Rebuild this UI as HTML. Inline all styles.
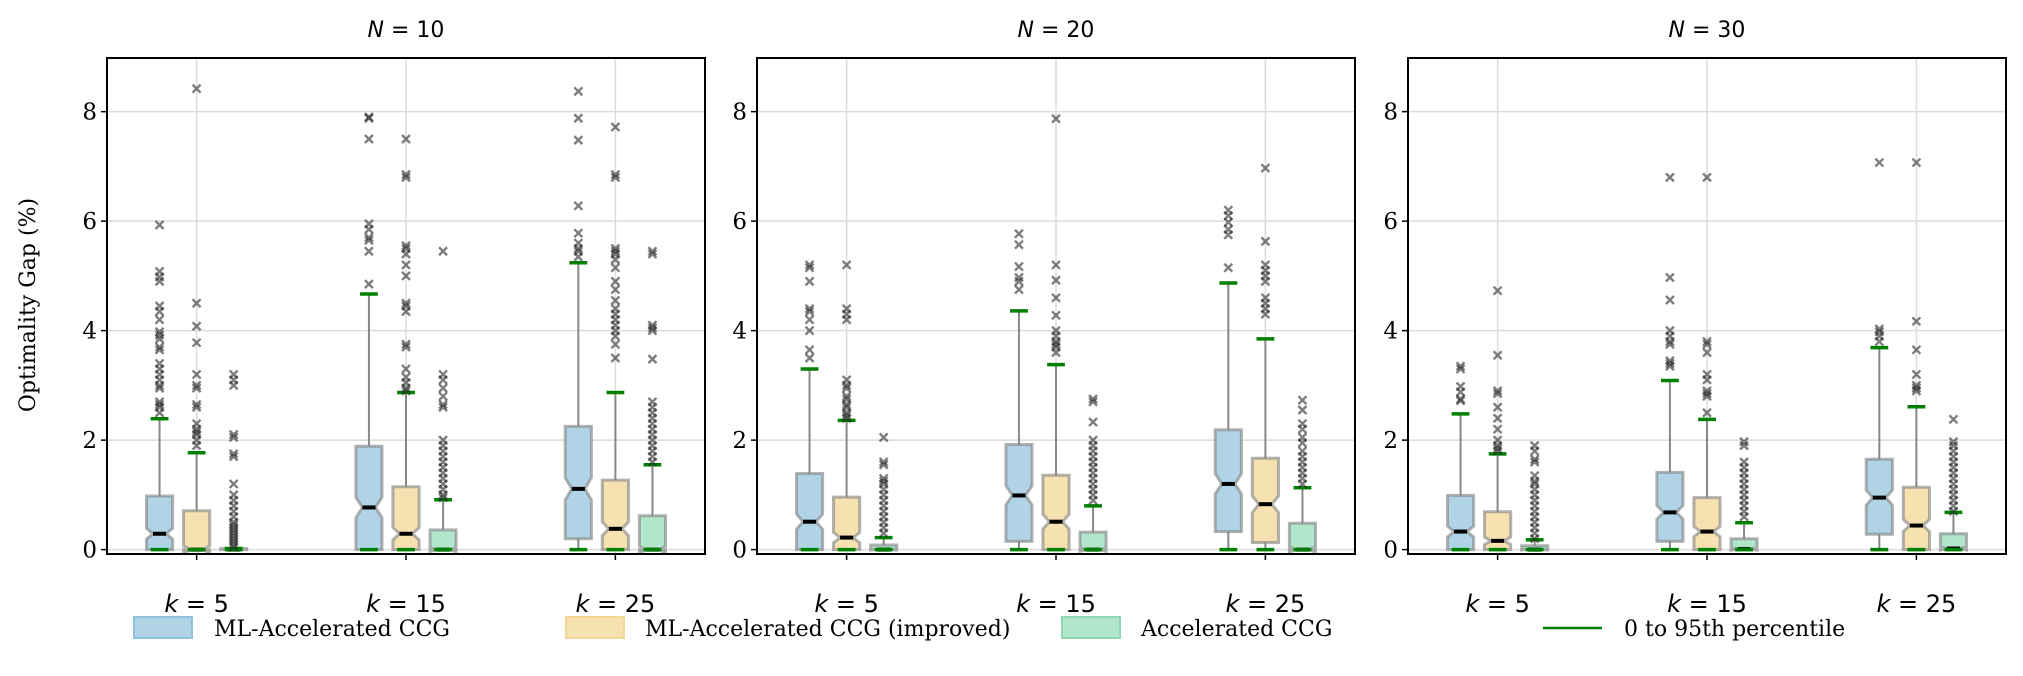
<!DOCTYPE html>
<html><head><meta charset="utf-8"><style>
html,body{margin:0;padding:0;background:#fff;}
svg text{font-family:"DejaVu Serif","Liberation Serif",serif;}
</style></head><body>
<svg id="chart" width="2023" height="671" viewBox="0 0 2023 671" xmlns="http://www.w3.org/2000/svg">
<defs>
<clipPath id="c0"><rect x="107" y="58" width="598" height="496"/></clipPath>
<clipPath id="c1"><rect x="757" y="58" width="598" height="496"/></clipPath>
<clipPath id="c2"><rect x="1408" y="58" width="598" height="496"/></clipPath>
</defs>
<text x="0" y="0" transform="translate(35,305) rotate(-90)" text-anchor="middle" font-size="22">Optimality Gap (%)</text>
<g id="plots"></g>
<g>
  <g>
    <rect x="134" y="617" width="58" height="21" fill="#b0d4e6" stroke="#8fc0dc" stroke-width="2"/>
    <text x="214" y="636" font-size="22">ML-Accelerated CCG</text></g>
  <g>
    <rect x="566" y="617" width="58" height="21" fill="#f6e2b0" stroke="#f2d894" stroke-width="2"/>
    <text x="645" y="636" font-size="22">ML-Accelerated CCG (improved)</text></g>
  <g>
    <rect x="1062" y="617" width="58" height="21" fill="#b2e6cc" stroke="#8fd8b4" stroke-width="2"/>
    <text x="1141" y="636" font-size="22">Accelerated CCG</text></g>
  <g>
    <line x1="1543" y1="628" x2="1602" y2="628" stroke="#008000" stroke-width="2.5"/>
    <text x="1624" y="636" font-size="22">0 to 95th percentile</text></g>
</g>
</svg>
<script>
const panelTitles = ['10','20','30'];
const categories = ['5','15','25'];
const methods = ['ML-Accelerated CCG','ML-Accelerated CCG (improved)','Accelerated CCG'];
// [panel][category][method]
const q1 = [
 [[0,0,0],[0,0,0],[0.2,0,0]],
 [[0,0,0],[0.15,0,0],[0.33,0.13,0]],
 [[0,0,0],[0.15,0,0],[0.28,0,0]]];
const med = [
 [[0.29,0,0],[0.77,0.29,0],[1.11,0.38,0]],
 [[0.51,0.22,0],[0.99,0.51,0],[1.2,0.83,0]],
 [[0.33,0.16,0],[0.68,0.33,0.01],[0.95,0.44,0.02]]];
const q3 = [
 [[0.98,0.71,0.02],[1.89,1.15,0.36],[2.25,1.27,0.62]],
 [[1.39,0.96,0.085],[1.92,1.36,0.32],[2.19,1.67,0.48]],
 [[0.99,0.69,0.07],[1.41,0.95,0.2],[1.65,1.14,0.29]]];
const p95 = [
 [[2.39,1.77,0.02],[4.67,2.87,0.91],[5.24,2.87,1.55]],
 [[3.3,2.36,0.22],[4.36,3.38,0.8],[4.87,3.85,1.13]],
 [[2.48,1.75,0.18],[3.09,2.38,0.49],[3.69,2.61,0.68]]];
const outliers = [
 [[[5.93,5.08,4.98,4.9,4.45,4.35,4.2,3.98,3.92,3.85,3.7,3.65,3.4,3.3,3.2,3.1,3.0,2.95,2.7,2.65,2.6,2.5],
   [8.42,4.5,4.08,3.78,3.2,3.0,2.95,2.65,2.6,2.3,2.2,2.15,2.1,2.0,1.9],
   [3.2,3.1,3.0,2.1,2.05,1.75,1.7,1.2,1.0,0.9,0.8,0.7,0.6,0.5,0.45,0.4,0.35,0.3,0.25,0.2,0.15,0.1,0.05]],
  [[7.9,7.88,7.5,5.95,5.85,5.7,5.65,5.45,4.85],
   [7.5,6.85,6.8,5.55,5.5,5.4,5.2,5.0,4.5,4.45,4.35,3.75,3.7,3.3,3.15,3.05,2.95,2.9],
   [5.45,3.2,3.1,2.95,2.8,2.65,2.6,2.0,1.9,1.8,1.7,1.6,1.5,1.4,1.3,1.2,1.1,1.0,0.95]],
  [[8.37,7.88,7.48,6.28,5.78,5.6,5.5,5.45,5.35],
   [7.72,6.85,6.8,5.5,5.45,5.4,5.3,5.15,4.9,4.75,4.55,4.4,4.3,4.2,4.1,4.0,3.9,3.75,3.5],
   [5.45,5.4,4.1,4.05,4.0,3.48,2.7,2.6,2.5,2.4,2.3,2.2,2.1,2.0,1.9,1.8,1.7,1.6]]],
 [[[5.2,5.15,4.9,4.4,4.35,4.2,4.0,3.65,3.5],
   [5.2,4.4,4.3,4.2,3.1,3.0,2.95,2.8,2.75,2.65,2.6,2.5,2.45,2.4],
   [2.05,1.6,1.55,1.3,1.25,1.2,1.1,1.0,0.9,0.8,0.7,0.6,0.5,0.4,0.3]],
  [[5.77,5.57,5.17,4.97,4.9,4.75],
   [7.87,5.2,4.92,4.6,4.28,4.0,3.9,3.8,3.75,3.7,3.6],
   [2.75,2.7,2.33,2.0,1.9,1.8,1.7,1.6,1.5,1.4,1.3,1.2,1.1,1.0,0.9]],
  [[6.2,6.1,5.98,5.85,5.75,5.15],
   [6.97,5.63,5.2,5.1,5.0,4.9,4.6,4.5,4.4,4.3],
   [2.73,2.55,2.3,2.2,2.05,1.95,1.8,1.7,1.6,1.5,1.4,1.3,1.2]]],
 [[[3.35,3.3,2.98,2.88,2.75,2.72],
   [4.73,3.55,2.9,2.85,2.6,2.4,2.2,2.0,1.9,1.85,1.8],
   [1.9,1.8,1.65,1.6,1.35,1.25,1.2,1.1,1.0,0.9,0.8,0.7,0.6,0.5,0.4,0.3,0.2]],
  [[6.8,4.97,4.56,4.0,3.9,3.8,3.75,3.45,3.4,3.35],
   [6.8,3.8,3.75,3.6,3.2,3.1,2.9,2.85,2.8,2.5],
   [1.97,1.9,1.6,1.5,1.4,1.3,1.2,1.1,1.0,0.9,0.8,0.7,0.6]],
  [[7.07,4.03,3.98,3.9,3.8],
   [7.07,4.17,3.65,3.2,3.0,2.95,2.9],
   [2.38,1.97,1.9,1.8,1.7,1.6,1.5,1.4,1.3,1.2,1.1,1.0,0.9,0.8,0.7]]]];
const yTicks = [0,2,4,6,8];

const NS='http://www.w3.org/2000/svg';
const fills=['#b0d4e6','#f6e2b0','#b2e6cc'];
const panelLeft=[107,757,1408], PW=598, PT=58, PB=554;
const XMIN=0.572, XMAX=3.428, YMIN=-0.08, YMAX=8.98;
function sx(p,v){return panelLeft[p]+(v-XMIN)/(XMAX-XMIN)*PW;}
function sy(v){return PB-(v-YMIN)/(YMAX-YMIN)*(PB-PT);}
function mk(tag,attrs,parent){const e=document.createElementNS(NS,tag);for(const k in attrs)e.setAttribute(k,attrs[k]);parent.appendChild(e);return e;}
const root=document.getElementById('plots');
const OFF=0.177, BW=0.125, NSAMP=250;
const SANS='font-family:"DejaVu Sans","Liberation Sans",sans-serif';
for(let p=0;p<3;p++){
  const g=mk('g',{},root);
  
  
  const L=panelLeft[p];
  yTicks.forEach(t=>{
    const l=mk('line',{x1:L,x2:L+PW,y1:sy(t),y2:sy(t),stroke:'#dcdcdc','stroke-width':1.5},g);
    
    
    const tk=mk('line',{x1:L-6,x2:L,y1:sy(t),y2:sy(t),stroke:'#000','stroke-width':1.5},g);
    
    
    const tx=mk('text',{x:L-10,y:sy(t)+8,'text-anchor':'end','font-size':23},g);
    tx.textContent=t;
    
    
  });
  categories.forEach((c,ci)=>{
    const cx=sx(p,ci+1);
    const l=mk('line',{x1:cx,x2:cx,y1:PT,y2:PB,stroke:'#dcdcdc','stroke-width':1.5},g);
    
    
    const tk=mk('line',{x1:cx,x2:cx,y1:PB,y2:PB+6,stroke:'#000','stroke-width':1.5},g);
    
    
    const tx=mk('text',{x:cx,y:612,'text-anchor':'middle','font-size':24,style:SANS},g);
    tx.innerHTML='<tspan font-style="italic">k</tspan> = '+c;
    
    
  });
  const cg=mk('g',{'clip-path':'url(#c'+p+')'},g);
  for(let ci=0;ci<3;ci++){
    for(let m=0;m<3;m++){
      const pos=ci+1+(m-1)*OFF;
      const cx=sx(p,pos), hw=sx(p,pos+BW/2)-cx;
      const a=q1[p][ci][m], md=med[p][ci][m], b=q3[p][ci][m], hi=p95[p][ci][m];
      const bg=mk('g',{},cg);
      
      
      mk('line',{x1:cx,x2:cx,y1:sy(b),y2:sy(hi),stroke:'#888','stroke-width':2},bg);
      if(a>0) mk('line',{x1:cx,x2:cx,y1:sy(a),y2:sy(0),stroke:'#888','stroke-width':2},bg);
      const n=1.57*(b-a)/Math.sqrt(NSAMP);
      const nl=md-n, nh=md+n, l=cx-hw, r=cx+hw, cl=cx-hw/2, cr=cx+hw/2;
      const pts=[[l,a],[r,a],[r,nl],[cr,md],[r,nh],[r,b],[l,b],[l,nh],[cl,md],[l,nl]].map(q=>q[0].toFixed(1)+','+sy(q[1]).toFixed(1)).join(' ');
      mk('polygon',{points:pts,fill:fills[m],stroke:'rgba(128,128,128,0.6)','stroke-width':3,'stroke-linejoin':'miter'},bg);
      mk('line',{x1:cl,x2:cr,y1:sy(md),y2:sy(md),stroke:'#000','stroke-width':4},bg);
      const cw=hw*0.68;
      mk('line',{x1:cx-cw,x2:cx+cw,y1:sy(0),y2:sy(0),stroke:'#008000','stroke-width':3.5},bg);
      mk('line',{x1:cx-cw,x2:cx+cw,y1:sy(hi),y2:sy(hi),stroke:'#008000','stroke-width':3.5},bg);
      outliers[p][ci][m].forEach(v=>{
        const y=sy(v), s=4;
        const o=mk('path',{d:`M${cx-s},${y-s}L${cx+s},${y+s}M${cx-s},${y+s}L${cx+s},${y-s}`,stroke:'rgba(40,40,40,0.6)','stroke-width':2.4},bg);
        
        
      });
    }
  }
  const fr=mk('rect',{x:L,y:PT,width:PW,height:PB-PT,fill:'none',stroke:'#000','stroke-width':2},g);
  
  
  const tt=mk('text',{x:L+PW/2,y:37,'text-anchor':'middle','font-size':22,style:SANS},g);
  tt.innerHTML='<tspan font-style="italic">N</tspan> = '+panelTitles[p];
  
  
}
</script>
</body></html>
